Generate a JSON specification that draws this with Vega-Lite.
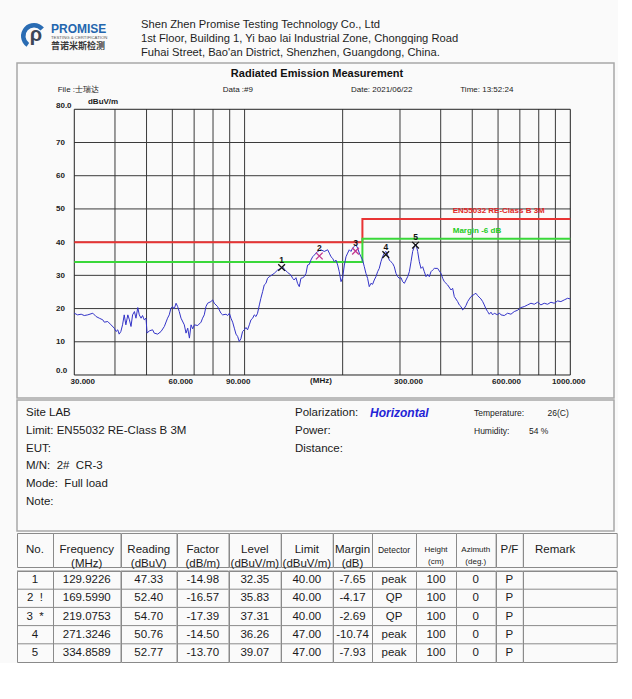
{
"$schema": "https://vega.github.io/schema/vega-lite/v6.json",
"background": "#fafafa",
"padding": {"left": 16, "top": 0, "right": 0, "bottom": 0},
"config": {
  "font": "Liberation Sans",
  "view": {"stroke": "#8a8a8a", "strokeWidth": 1},
  "locale": {"number": {"decimal": ".", "thousands": ",", "grouping": [3], "currency": ["$", ""], "minus": "-"}}
},
"datasets": {
  "trace": [
    {"f":30.0,"db":18.6},{"f":30.7,"db":18.1},{"f":31.5,"db":18.3},{"f":32.2,"db":17.9},{"f":33.0,"db":18.1},{"f":34.2,"db":18.6},{"f":35.0,"db":17.6},{"f":35.8,"db":17.1},{"f":36.7,"db":16.6},{"f":37.1,"db":15.9},{"f":38.0,"db":16.1},{"f":38.9,"db":15.1},{"f":39.8,"db":14.1},{"f":40.3,"db":13.1},{"f":40.8,"db":13.6},{"f":41.2,"db":12.3},{"f":41.7,"db":13.1},{"f":42.2,"db":15.1},{"f":42.7,"db":18.1},{"f":43.2,"db":15.1},{"f":43.8,"db":18.1},{"f":44.3,"db":16.6},{"f":44.8,"db":14.6},{"f":45.3,"db":18.1},{"f":45.9,"db":19.1},{"f":46.4,"db":17.1},{"f":47.0,"db":20.3},{"f":47.5,"db":18.1},{"f":48.1,"db":17.1},{"f":48.6,"db":17.9},{"f":49.2,"db":16.6},{"f":49.8,"db":17.1},{"f":50.2,"db":12.6},{"f":51.0,"db":13.3},{"f":52.2,"db":13.6},{"f":52.8,"db":12.6},{"f":54.1,"db":12.3},{"f":55.4,"db":13.1},{"f":56.7,"db":14.6},{"f":58.0,"db":17.1},{"f":58.7,"db":18.1},{"f":59.4,"db":20.1},{"f":60.1,"db":20.6},{"f":60.8,"db":19.9},{"f":61.6,"db":21.6},{"f":62.3,"db":20.6},{"f":63.0,"db":19.1},{"f":63.8,"db":17.1},{"f":65.3,"db":15.1},{"f":66.1,"db":12.6},{"f":66.9,"db":14.1},{"f":67.7,"db":11.1},{"f":68.5,"db":15.1},{"f":69.3,"db":13.9},{"f":70.1,"db":15.1},{"f":71.8,"db":14.9},{"f":73.5,"db":15.9},{"f":74.3,"db":17.1},{"f":75.2,"db":18.1},{"f":76.1,"db":20.6},{"f":77.0,"db":21.6},{"f":78.8,"db":22.1},{"f":79.8,"db":22.6},{"f":80.7,"db":21.6},{"f":82.6,"db":20.6},{"f":84.6,"db":18.6},{"f":85.6,"db":18.1},{"f":87.7,"db":18.3},{"f":88.7,"db":17.9},{"f":89.8,"db":18.6},{"f":90.8,"db":17.1},{"f":91.9,"db":15.9},{"f":93.0,"db":14.1},{"f":94.1,"db":12.3},{"f":95.2,"db":11.6},{"f":96.3,"db":10.1},{"f":97.4,"db":10.9},{"f":98.6,"db":13.1},{"f":99.8,"db":13.6},{"f":101.0,"db":14.3},{"f":102.1,"db":13.6},{"f":103.4,"db":15.1},{"f":104.6,"db":16.6},{"f":105.9,"db":17.1},{"f":107.1,"db":18.1},{"f":108.4,"db":17.6},{"f":109.6,"db":18.6},{"f":111.0,"db":21.1},{"f":112.2,"db":23.1},{"f":113.6,"db":25.1},{"f":114.9,"db":27.1},{"f":116.3,"db":27.6},{"f":117.6,"db":29.1},{"f":119.1,"db":29.6},{"f":120.4,"db":29.9},{"f":123.3,"db":30.6},{"f":126.3,"db":31.6},{"f":129.3,"db":32.1},{"f":130.9,"db":32.6},{"f":132.3,"db":31.9},{"f":135.5,"db":30.9},{"f":138.7,"db":30.1},{"f":140.5,"db":29.1},{"f":142.0,"db":28.6},{"f":143.8,"db":29.3},{"f":145.4,"db":27.6},{"f":147.2,"db":26.6},{"f":148.9,"db":29.1},{"f":150.8,"db":29.3},{"f":152.4,"db":29.6},{"f":154.4,"db":30.6},{"f":156.1,"db":33.1},{"f":158.0,"db":33.3},{"f":159.8,"db":34.6},{"f":161.8,"db":35.6},{"f":163.7,"db":36.1},{"f":167.6,"db":37.2},{"f":171.6,"db":37.7},{"f":175.7,"db":37.2},{"f":179.9,"db":37.7},{"f":182.0,"db":36.7},{"f":184.2,"db":35.6},{"f":186.4,"db":35.1},{"f":188.6,"db":34.1},{"f":190.8,"db":34.6},{"f":193.1,"db":33.1},{"f":195.3,"db":31.1},{"f":197.7,"db":28.1},{"f":200.0,"db":29.3},{"f":202.4,"db":33.1},{"f":204.8,"db":35.6},{"f":207.2,"db":36.7},{"f":209.6,"db":37.7},{"f":212.1,"db":37.2},{"f":214.6,"db":38.2},{"f":217.2,"db":38.7},{"f":219.7,"db":39.2},{"f":222.4,"db":38.2},{"f":225.0,"db":36.7},{"f":227.7,"db":35.6},{"f":230.3,"db":34.6},{"f":233.1,"db":32.6},{"f":235.8,"db":30.6},{"f":238.6,"db":29.1},{"f":241.4,"db":26.6},{"f":244.3,"db":27.6},{"f":247.2,"db":27.3},{"f":250.1,"db":28.6},{"f":253.1,"db":29.6},{"f":256.1,"db":31.1},{"f":259.1,"db":32.1},{"f":262.2,"db":34.1},{"f":265.2,"db":35.6},{"f":268.5,"db":36.7},{"f":271.7,"db":37.2},{"f":274.9,"db":36.1},{"f":278.2,"db":34.6},{"f":281.4,"db":34.1},{"f":284.8,"db":33.6},{"f":288.1,"db":32.6},{"f":291.6,"db":30.6},{"f":295.1,"db":29.6},{"f":298.6,"db":29.1},{"f":302.2,"db":29.3},{"f":305.7,"db":28.1},{"f":309.4,"db":27.6},{"f":313.0,"db":28.6},{"f":316.7,"db":29.6},{"f":320.5,"db":31.1},{"f":324.3,"db":34.1},{"f":328.1,"db":37.2},{"f":332.0,"db":38.7},{"f":335.9,"db":39.4},{"f":339.9,"db":37.2},{"f":343.9,"db":34.1},{"f":348.0,"db":32.1},{"f":352.1,"db":32.6},{"f":356.3,"db":31.1},{"f":360.5,"db":29.6},{"f":364.8,"db":30.3},{"f":369.1,"db":29.6},{"f":373.5,"db":31.1},{"f":377.9,"db":31.6},{"f":382.4,"db":32.1},{"f":391.5,"db":32.1},{"f":396.2,"db":31.3},{"f":400.8,"db":30.6},{"f":405.7,"db":29.1},{"f":410.4,"db":28.1},{"f":420.2,"db":27.1},{"f":430.2,"db":25.6},{"f":435.3,"db":26.1},{"f":440.4,"db":23.6},{"f":450.9,"db":22.1},{"f":456.2,"db":21.1},{"f":461.7,"db":20.6},{"f":467.1,"db":19.6},{"f":472.7,"db":20.1},{"f":478.2,"db":20.9},{"f":483.9,"db":22.1},{"f":495.5,"db":23.6},{"f":507.3,"db":24.3},{"f":513.2,"db":24.6},{"f":519.4,"db":23.9},{"f":531.7,"db":22.9},{"f":538.2,"db":22.1},{"f":544.4,"db":21.1},{"f":551.0,"db":19.9},{"f":557.4,"db":19.1},{"f":564.0,"db":18.3},{"f":570.7,"db":18.9},{"f":577.5,"db":18.1},{"f":584.3,"db":18.6},{"f":598.2,"db":18.1},{"f":605.2,"db":18.7},{"f":612.4,"db":18.1},{"f":627.0,"db":17.9},{"f":642.0,"db":18.6},{"f":657.3,"db":18.3},{"f":672.9,"db":19.1},{"f":689.0,"db":19.5},{"f":705.4,"db":20.3},{"f":722.2,"db":20.6},{"f":739.4,"db":21.1},{"f":757.0,"db":21.6},{"f":775.0,"db":21.3},{"f":793.5,"db":21.9},{"f":812.4,"db":21.1},{"f":831.7,"db":21.6},{"f":851.6,"db":21.3},{"f":871.9,"db":21.9},{"f":892.6,"db":21.6},{"f":913.9,"db":22.3},{"f":935.7,"db":22.1},{"f":957.9,"db":22.6},{"f":980.8,"db":23.1},{"f":1000,"db":22.9}
  ],
  "meas": [
    {"idx":1,"no":"1","freq":129.9226,"reading":47.33,"factor":-14.98,"level":32.35,"limit":40,"margin":-7.65,"detector":"peak","height":100,"azimuth":0,"pf":"P","remark":""},
    {"idx":2,"no":"2\u00a0\u00a0!","freq":169.599,"reading":52.40,"factor":-16.57,"level":35.83,"limit":40,"margin":-4.17,"detector":"QP","height":100,"azimuth":0,"pf":"P","remark":""},
    {"idx":3,"no":"3\u00a0\u00a0*","freq":219.0753,"reading":54.70,"factor":-17.39,"level":37.31,"limit":40,"margin":-2.69,"detector":"QP","height":100,"azimuth":0,"pf":"P","remark":""},
    {"idx":4,"no":"4","freq":271.3246,"reading":50.76,"factor":-14.50,"level":36.26,"limit":47,"margin":-10.74,"detector":"peak","height":100,"azimuth":0,"pf":"P","remark":""},
    {"idx":5,"no":"5","freq":334.8589,"reading":52.77,"factor":-13.70,"level":39.07,"limit":47,"margin":-7.93,"detector":"peak","height":100,"azimuth":0,"pf":"P","remark":""}
  ],
  "limit": [
    {"f":30,"limit":40,"margin":34},{"f":230,"limit":47,"margin":41},{"f":1000,"limit":47,"margin":41}
  ],
  "info": [
    {"line":1,"col":0,"t":"Site LAB"},{"line":2,"col":0,"t":"Limit: EN55032 RE-Class B 3M"},{"line":3,"col":0,"t":"EUT:"},{"line":4,"col":0,"t":"M/N:\u00a0\u00a02#\u00a0\u00a0CR-3"},{"line":5,"col":0,"t":"Mode:\u00a0\u00a0Full load"},{"line":6,"col":0,"t":"Note:"},
    {"line":1,"col":1,"t":"Polarization:"},{"line":2,"col":1,"t":"Power:"},{"line":3,"col":1,"t":"Distance:"}
  ],
  "env": [
    {"line":1,"col":3,"t":"Temperature:"},{"line":1,"col":5,"t":"26(C)"},{"line":2,"col":3,"t":"Humidity:"},{"line":2,"col":4,"t":"54 %"}
  ]
},
"spacing": 0,
"vconcat": [
  {
    "spacing": 0, "bounds": "flush",
    "hconcat": [
      {"width": 34, "height": 62, "view": {"stroke": null}, "data": {"values": [{}]},
       "layer": [
         {"mark": {"type": "arc", "theta": 3.75, "theta2": 7.15, "innerRadius": 8.5, "outerRadius": 13, "color": "#2a6cb3", "yOffset": 5}, "encoding": {}},
         {"mark": {"type": "text", "text": "ρ", "fontSize": 20, "fontWeight": "bold", "color": "#3c4757", "yOffset": 4, "xOffset": 2}, "encoding": {}}
       ]},
      {"width": 90, "height": 62, "view": {"stroke": null},
       "layer": [
         {"data": {"values": [{"line": 1, "t": "PROMISE"}]},
          "mark": {"type": "text", "align": "left", "fontSize": 12, "fontWeight": "bold", "color": "#2466ae"},
          "encoding": {"x": {"datum": 0, "type": "quantitative", "scale": {"domain": [0, 1]}, "axis": null},
                       "y": {"field": "line", "type": "quantitative", "scale": {"domain": [1, 3], "range": [29, 46]}, "axis": null},
                       "text": {"field": "t"}}},
         {"data": {"values": [{"line": 2, "t": "TESTING & CERTIFICATION"}]},
          "mark": {"type": "text", "align": "left", "fontSize": 4.3, "color": "#555555"},
          "encoding": {"x": {"datum": 0, "type": "quantitative"}, "y": {"field": "line", "type": "quantitative"}, "text": {"field": "t"}}},
         {"data": {"values": [{"line": 3, "t": "普诺米斯检测"}]},
          "mark": {"type": "text", "align": "left", "fontSize": 9, "fontWeight": "bold", "font": "Noto Sans CJK SC", "color": "#3a3a3a"},
          "encoding": {"x": {"datum": 0, "type": "quantitative"}, "y": {"field": "line", "type": "quantitative"}, "text": {"field": "t"}}}
       ]},
      {"width": 473, "height": 62, "view": {"stroke": null},
       "data": {"values": [{"line": 1, "t": "Shen Zhen Promise Testing Technology Co., Ltd"}, {"line": 2, "t": "1st Floor, Building 1, Yi bao lai Industrial Zone, Chongqing Road"}, {"line": 3, "t": "Fuhai Street, Bao'an District, Shenzhen, Guangdong, China."}]},
       "mark": {"type": "text", "align": "left", "fontSize": 11.2, "color": "#1e1e1e"},
       "encoding": {"x": {"datum": 0, "type": "quantitative", "scale": {"domain": [0, 1]}, "axis": null},
                    "y": {"field": "line", "type": "quantitative", "scale": {"domain": [1, 3], "range": [25, 53]}, "axis": null},
                    "text": {"field": "t"}}}
    ]
  },
  {
    "width": 597, "height": 335,
    "view": {"stroke": "#a8a8a8", "strokeWidth": 1.5},
    "layer": [
      {"data": {"values": [{"g":40},{"g":50},{"g":60},{"g":70},{"g":80},{"g":90},{"g":100},{"g":200},{"g":300},{"g":400},{"g":500},{"g":600},{"g":700},{"g":800},{"g":900}]},
       "mark": {"type": "rule", "color": "#3a3a3a", "strokeWidth": 1},
       "encoding": {
         "x": {"field": "g", "type": "quantitative", "scale": {"type": "log", "domain": [20.01, 1361.9], "nice": false},
               "axis": {"values": [30, 60, 90, 300, 600, 1000], "format": ".3f", "title": null, "domain": false, "ticks": false, "tickSize": 0, "grid": false, "labelPadding": -21, "labelFontSize": 8, "labelFontWeight": "bold", "labelColor": "#222222", "labelOverlap": false, "labelFlush": false, "labelBaseline": "top", "labelOffset": {"condition": {"test": "datum.value >= 1000", "value": -2}, "value": 8}}},
         "y": {"datum": 0, "type": "quantitative", "scale": {"domain": [-6.93, 93.94], "nice": false, "zero": false},
               "axis": {"values": [0, 10, 20, 30, 40, 50, 60, 70, 80], "labelExpr": "datum.value == 0 || datum.value == 80 ? format(datum.value, '.1f') : format(datum.value, 'd')", "title": null, "domain": false, "ticks": false, "tickSize": 0, "grid": false, "labelPadding": -38.5, "labelAlign": "left", "labelFontSize": 8, "labelFontWeight": "bold", "labelColor": "#222222", "labelOverlap": false, "labelFlush": false, "labelBaseline": {"condition": {"test": "datum.value == 0 || datum.value == 80", "value": "bottom"}, "value": "middle"}}},
         "y2": {"datum": 80}}},
      {"data": {"values": [{"h":10},{"h":20},{"h":30},{"h":40},{"h":50},{"h":60},{"h":70}]},
       "mark": {"type": "rule", "color": "#3a3a3a", "strokeWidth": 1},
       "encoding": {"x": {"datum": 30}, "x2": {"datum": 1000}, "y": {"field": "h", "type": "quantitative"}}},
      {"data": {"values": [{}]},
       "mark": {"type": "rect", "fill": "transparent", "stroke": "#222222", "strokeWidth": 1},
       "encoding": {"x": {"datum": 30}, "x2": {"datum": 1000}, "y": {"datum": 0}, "y2": {"datum": 80}}},
      {"data": {"name": "limit"},
       "mark": {"type": "line", "interpolate": "step-after", "color": "#e83434", "strokeWidth": 2},
       "encoding": {"x": {"field": "f", "type": "quantitative"}, "y": {"field": "limit", "type": "quantitative"}}},
      {"data": {"name": "limit"},
       "mark": {"type": "line", "interpolate": "step-after", "color": "#3ad83a", "strokeWidth": 2},
       "encoding": {"x": {"field": "f", "type": "quantitative"}, "y": {"field": "margin", "type": "quantitative"}}},
      {"data": {"name": "trace"},
       "mark": {"type": "line", "color": "#3434c8", "strokeWidth": 1},
       "encoding": {"x": {"field": "f", "type": "quantitative"}, "y": {"field": "db", "type": "quantitative"}}},
      {"data": {"name": "meas"},
       "mark": {"type": "point", "shape": "M-1,-1L1,1M-1,1L1,-1", "size": 45, "strokeWidth": 1.3, "filled": false, "opacity": 1},
       "encoding": {"x": {"field": "freq", "type": "quantitative"}, "y": {"field": "level", "type": "quantitative"},
                    "color": {"field": "detector", "type": "nominal", "scale": {"domain": ["peak", "QP"], "range": ["#111111", "#c2388f"]}, "legend": null}}},
      {"data": {"name": "meas"},
       "mark": {"type": "text", "dy": -8, "fontSize": 8.5, "fontWeight": "bold", "color": "#111111"},
       "encoding": {"x": {"field": "freq", "type": "quantitative"}, "y": {"field": "level", "type": "quantitative"}, "text": {"field": "idx", "type": "nominal"}}},
      {"data": {"values": [{}]},
       "mark": {"type": "text", "text": "EN55032 RE-Class B 3M", "align": "left", "fontSize": 8, "fontWeight": "bold", "color": "#e02828"},
       "encoding": {"x": {"datum": 435.5}, "y": {"datum": 49.38}}},
      {"data": {"values": [{}]},
       "mark": {"type": "text", "text": "Margin -6 dB", "align": "left", "fontSize": 8, "fontWeight": "bold", "color": "#22cc22"},
       "encoding": {"x": {"datum": 435.5}, "y": {"datum": 43.45}}},
      {"data": {"values": [{}]},
       "mark": {"type": "text", "text": "Radiated Emission Measurement", "fontSize": 11, "fontWeight": "bold", "color": "#111111"},
       "encoding": {"x": {"datum": 166.9}, "y": {"datum": 90.64}}},
      {"data": {"values": [{}]},
       "mark": {"type": "text", "text": "File :士瑞达", "align": "left", "fontSize": 8, "color": "#1a1a1a"},
       "encoding": {"x": {"datum": 26.68}, "y": {"datum": 85.82}}},
      {"data": {"values": [{}]},
       "mark": {"type": "text", "text": "Data :#9", "align": "left", "fontSize": 8, "color": "#1a1a1a"},
       "encoding": {"x": {"datum": 85.66}, "y": {"datum": 85.82}}},
      {"data": {"values": [{}]},
       "mark": {"type": "text", "text": "Date: 2021/06/22", "align": "left", "fontSize": 8, "color": "#1a1a1a"},
       "encoding": {"x": {"datum": 212.1}, "y": {"datum": 85.82}}},
      {"data": {"values": [{}]},
       "mark": {"type": "text", "text": "Time: 13:52:24", "align": "left", "fontSize": 8, "color": "#1a1a1a"},
       "encoding": {"x": {"datum": 459.4}, "y": {"datum": 85.82}}},
      {"data": {"values": [{}]},
       "mark": {"type": "text", "text": "dBuV/m", "align": "left", "fontSize": 8, "fontWeight": "bold", "color": "#1a1a1a"},
       "encoding": {"x": {"datum": 33.05}, "y": {"datum": 82.05}}},
      {"data": {"values": [{}]},
       "mark": {"type": "text", "text": "(MHz)", "fontSize": 8, "fontWeight": "bold", "color": "#1a1a1a"},
       "encoding": {"x": {"datum": 171.6}, "y": {"datum": -1.81}}}
    ]
  },
  {
    "width": 597, "height": 131,
    "view": {"stroke": "#a8a8a8", "strokeWidth": 1.5},
    "layer": [
      {"data": {"name": "info"},
       "mark": {"type": "text", "align": "left", "fontSize": 11.5, "color": "#1a1a1a"},
       "encoding": {"x": {"field": "col", "type": "quantitative", "scale": {"domain": [0, 1, 2, 3, 4, 5], "range": [9, 278, 353, 457, 512, 530.5], "nice": false, "zero": false}, "axis": null},
                    "y": {"field": "line", "type": "quantitative", "scale": {"domain": [1, 6], "range": [13, 102], "nice": false, "zero": false}, "axis": null},
                    "text": {"field": "t"}}},
      {"data": {"values": [{"line": 1, "col": 2, "t": "Horizontal"}]},
       "mark": {"type": "text", "align": "left", "fontSize": 12, "fontWeight": "bold", "fontStyle": "italic", "color": "#2323d6"},
       "encoding": {"x": {"field": "col", "type": "quantitative"}, "y": {"field": "line", "type": "quantitative"}, "text": {"field": "t"}}},
      {"data": {"name": "env"},
       "mark": {"type": "text", "align": "left", "fontSize": 8.5, "color": "#1a1a1a"},
       "encoding": {"x": {"field": "col", "type": "quantitative"}, "y": {"field": "line", "type": "quantitative"}, "text": {"field": "t"}}}
    ]
  },
  {
    "spacing": 0, "bounds": "flush",
    "hconcat": [
      {"width": 36, "height": 34, "data": {"values": [{"r": 0, "h": "No."}]}, "mark": {"type": "text", "fontSize": 11.5, "color": "#1a1a1a"}, "encoding": {"y": {"field": "r", "type": "ordinal", "axis": null}, "text": {"field": "h", "type": "nominal"}}},
      {"width": 67.5, "height": 34, "data": {"values": [{"r": 0, "h": ["Frequency", "(MHz)"]}]}, "mark": {"type": "text", "fontSize": 11.5, "lineHeight": 13.5, "color": "#1a1a1a"}, "encoding": {"y": {"field": "r", "type": "ordinal", "axis": null}, "text": {"field": "h", "type": "nominal"}}},
      {"width": 55.5, "height": 34, "data": {"values": [{"r": 0, "h": ["Reading", "(dBuV)"]}]}, "mark": {"type": "text", "fontSize": 11.5, "lineHeight": 13.5, "color": "#1a1a1a"}, "encoding": {"y": {"field": "r", "type": "ordinal", "axis": null}, "text": {"field": "h", "type": "nominal"}}},
      {"width": 51.5, "height": 34, "data": {"values": [{"r": 0, "h": ["Factor", "(dB/m)"]}]}, "mark": {"type": "text", "fontSize": 11.5, "lineHeight": 13.5, "color": "#1a1a1a"}, "encoding": {"y": {"field": "r", "type": "ordinal", "axis": null}, "text": {"field": "h", "type": "nominal"}}},
      {"width": 51.7, "height": 34, "data": {"values": [{"r": 0, "h": ["Level", "(dBuV/m)"]}]}, "mark": {"type": "text", "fontSize": 11.5, "lineHeight": 13.5, "color": "#1a1a1a"}, "encoding": {"y": {"field": "r", "type": "ordinal", "axis": null}, "text": {"field": "h", "type": "nominal"}}},
      {"width": 51.7, "height": 34, "data": {"values": [{"r": 0, "h": ["Limit", "(dBuV/m)"]}]}, "mark": {"type": "text", "fontSize": 11.5, "lineHeight": 13.5, "color": "#1a1a1a"}, "encoding": {"y": {"field": "r", "type": "ordinal", "axis": null}, "text": {"field": "h", "type": "nominal"}}},
      {"width": 39, "height": 34, "data": {"values": [{"r": 0, "h": ["Margin", "(dB)"]}]}, "mark": {"type": "text", "fontSize": 11.5, "lineHeight": 13.5, "color": "#1a1a1a"}, "encoding": {"y": {"field": "r", "type": "ordinal", "axis": null}, "text": {"field": "h", "type": "nominal"}}},
      {"width": 44, "height": 34, "data": {"values": [{"r": 0, "h": "Detector"}]}, "mark": {"type": "text", "fontSize": 8.5, "color": "#1a1a1a"}, "encoding": {"y": {"field": "r", "type": "ordinal", "axis": null}, "text": {"field": "h", "type": "nominal"}}},
      {"width": 40, "height": 34, "data": {"values": [{"r": 0, "h": ["Height", "(cm)"]}]}, "mark": {"type": "text", "fontSize": 8, "lineHeight": 12, "color": "#1a1a1a"}, "encoding": {"y": {"field": "r", "type": "ordinal", "axis": null}, "text": {"field": "h", "type": "nominal"}}},
      {"width": 39.6, "height": 34, "data": {"values": [{"r": 0, "h": ["Azimuth", "(deg.)"]}]}, "mark": {"type": "text", "fontSize": 8, "lineHeight": 12, "color": "#1a1a1a"}, "encoding": {"y": {"field": "r", "type": "ordinal", "axis": null}, "text": {"field": "h", "type": "nominal"}}},
      {"width": 26.8, "height": 34, "data": {"values": [{"r": 0, "h": "P/F"}]}, "mark": {"type": "text", "fontSize": 11.5, "color": "#1a1a1a"}, "encoding": {"y": {"field": "r", "type": "ordinal", "axis": null}, "text": {"field": "h", "type": "nominal"}}},
      {"width": 93.7, "height": 34, "data": {"values": [{"r": 0, "h": "Remark"}]}, "mark": {"type": "text", "align": "left", "dx": -34.8, "fontSize": 11.5, "color": "#1a1a1a"}, "encoding": {"y": {"field": "r", "type": "ordinal", "axis": null}, "text": {"field": "h", "type": "nominal"}}}
    ]
  },
  {
    "spacing": 0, "bounds": "flush",
    "hconcat": [
      {"width": 36, "height": 91, "data": {"name": "meas"}, "layer": [
        {"mark": {"type": "rule", "color": "#8a8a8a", "strokeWidth": 1}, "encoding": {"y": {"field": "idx", "type": "ordinal", "bandPosition": 0, "scale": {"type": "band", "paddingInner": 0, "paddingOuter": 0}, "axis": null}}},
        {"mark": {"type": "text", "fontSize": 11.5, "color": "#1a1a1a"}, "encoding": {"y": {"field": "idx", "type": "ordinal", "axis": null}, "text": {"field": "no", "type": "nominal"}}}]},
      {"width": 67.5, "height": 91, "data": {"name": "meas"}, "layer": [
        {"mark": {"type": "rule", "color": "#8a8a8a", "strokeWidth": 1}, "encoding": {"y": {"field": "idx", "type": "ordinal", "bandPosition": 0, "scale": {"type": "band", "paddingInner": 0, "paddingOuter": 0}, "axis": null}}},
        {"mark": {"type": "text", "fontSize": 11.5, "color": "#1a1a1a"}, "encoding": {"y": {"field": "idx", "type": "ordinal", "axis": null}, "text": {"field": "freq", "type": "quantitative", "format": ".4f"}}}]},
      {"width": 55.5, "height": 91, "data": {"name": "meas"}, "layer": [
        {"mark": {"type": "rule", "color": "#8a8a8a", "strokeWidth": 1}, "encoding": {"y": {"field": "idx", "type": "ordinal", "bandPosition": 0, "scale": {"type": "band", "paddingInner": 0, "paddingOuter": 0}, "axis": null}}},
        {"mark": {"type": "text", "fontSize": 11.5, "color": "#1a1a1a"}, "encoding": {"y": {"field": "idx", "type": "ordinal", "axis": null}, "text": {"field": "reading", "type": "quantitative", "format": ".2f"}}}]},
      {"width": 51.5, "height": 91, "data": {"name": "meas"}, "layer": [
        {"mark": {"type": "rule", "color": "#8a8a8a", "strokeWidth": 1}, "encoding": {"y": {"field": "idx", "type": "ordinal", "bandPosition": 0, "scale": {"type": "band", "paddingInner": 0, "paddingOuter": 0}, "axis": null}}},
        {"mark": {"type": "text", "fontSize": 11.5, "color": "#1a1a1a"}, "encoding": {"y": {"field": "idx", "type": "ordinal", "axis": null}, "text": {"field": "factor", "type": "quantitative", "format": ".2f"}}}]},
      {"width": 51.7, "height": 91, "data": {"name": "meas"}, "layer": [
        {"mark": {"type": "rule", "color": "#8a8a8a", "strokeWidth": 1}, "encoding": {"y": {"field": "idx", "type": "ordinal", "bandPosition": 0, "scale": {"type": "band", "paddingInner": 0, "paddingOuter": 0}, "axis": null}}},
        {"mark": {"type": "text", "fontSize": 11.5, "color": "#1a1a1a"}, "encoding": {"y": {"field": "idx", "type": "ordinal", "axis": null}, "text": {"field": "level", "type": "quantitative", "format": ".2f"}}}]},
      {"width": 51.7, "height": 91, "data": {"name": "meas"}, "layer": [
        {"mark": {"type": "rule", "color": "#8a8a8a", "strokeWidth": 1}, "encoding": {"y": {"field": "idx", "type": "ordinal", "bandPosition": 0, "scale": {"type": "band", "paddingInner": 0, "paddingOuter": 0}, "axis": null}}},
        {"mark": {"type": "text", "fontSize": 11.5, "color": "#1a1a1a"}, "encoding": {"y": {"field": "idx", "type": "ordinal", "axis": null}, "text": {"field": "limit", "type": "quantitative", "format": ".2f"}}}]},
      {"width": 39, "height": 91, "data": {"name": "meas"}, "layer": [
        {"mark": {"type": "rule", "color": "#8a8a8a", "strokeWidth": 1}, "encoding": {"y": {"field": "idx", "type": "ordinal", "bandPosition": 0, "scale": {"type": "band", "paddingInner": 0, "paddingOuter": 0}, "axis": null}}},
        {"mark": {"type": "text", "fontSize": 11.5, "color": "#1a1a1a"}, "encoding": {"y": {"field": "idx", "type": "ordinal", "axis": null}, "text": {"field": "margin", "type": "quantitative", "format": ".2f"}}}]},
      {"width": 44, "height": 91, "data": {"name": "meas"}, "layer": [
        {"mark": {"type": "rule", "color": "#8a8a8a", "strokeWidth": 1}, "encoding": {"y": {"field": "idx", "type": "ordinal", "bandPosition": 0, "scale": {"type": "band", "paddingInner": 0, "paddingOuter": 0}, "axis": null}}},
        {"mark": {"type": "text", "fontSize": 11.5, "color": "#1a1a1a"}, "encoding": {"y": {"field": "idx", "type": "ordinal", "axis": null}, "text": {"field": "detector", "type": "nominal"}}}]},
      {"width": 40, "height": 91, "data": {"name": "meas"}, "layer": [
        {"mark": {"type": "rule", "color": "#8a8a8a", "strokeWidth": 1}, "encoding": {"y": {"field": "idx", "type": "ordinal", "bandPosition": 0, "scale": {"type": "band", "paddingInner": 0, "paddingOuter": 0}, "axis": null}}},
        {"mark": {"type": "text", "fontSize": 11.5, "color": "#1a1a1a"}, "encoding": {"y": {"field": "idx", "type": "ordinal", "axis": null}, "text": {"field": "height", "type": "nominal"}}}]},
      {"width": 39.6, "height": 91, "data": {"name": "meas"}, "layer": [
        {"mark": {"type": "rule", "color": "#8a8a8a", "strokeWidth": 1}, "encoding": {"y": {"field": "idx", "type": "ordinal", "bandPosition": 0, "scale": {"type": "band", "paddingInner": 0, "paddingOuter": 0}, "axis": null}}},
        {"mark": {"type": "text", "fontSize": 11.5, "color": "#1a1a1a"}, "encoding": {"y": {"field": "idx", "type": "ordinal", "axis": null}, "text": {"field": "azimuth", "type": "nominal"}}}]},
      {"width": 26.8, "height": 91, "data": {"name": "meas"}, "layer": [
        {"mark": {"type": "rule", "color": "#8a8a8a", "strokeWidth": 1}, "encoding": {"y": {"field": "idx", "type": "ordinal", "bandPosition": 0, "scale": {"type": "band", "paddingInner": 0, "paddingOuter": 0}, "axis": null}}},
        {"mark": {"type": "text", "fontSize": 11.5, "color": "#1a1a1a"}, "encoding": {"y": {"field": "idx", "type": "ordinal", "axis": null}, "text": {"field": "pf", "type": "nominal"}}}]},
      {"width": 93.7, "height": 91, "data": {"name": "meas"}, "layer": [
        {"mark": {"type": "rule", "color": "#8a8a8a", "strokeWidth": 1}, "encoding": {"y": {"field": "idx", "type": "ordinal", "bandPosition": 0, "scale": {"type": "band", "paddingInner": 0, "paddingOuter": 0}, "axis": null}}}]}
    ]
  }
]
}
